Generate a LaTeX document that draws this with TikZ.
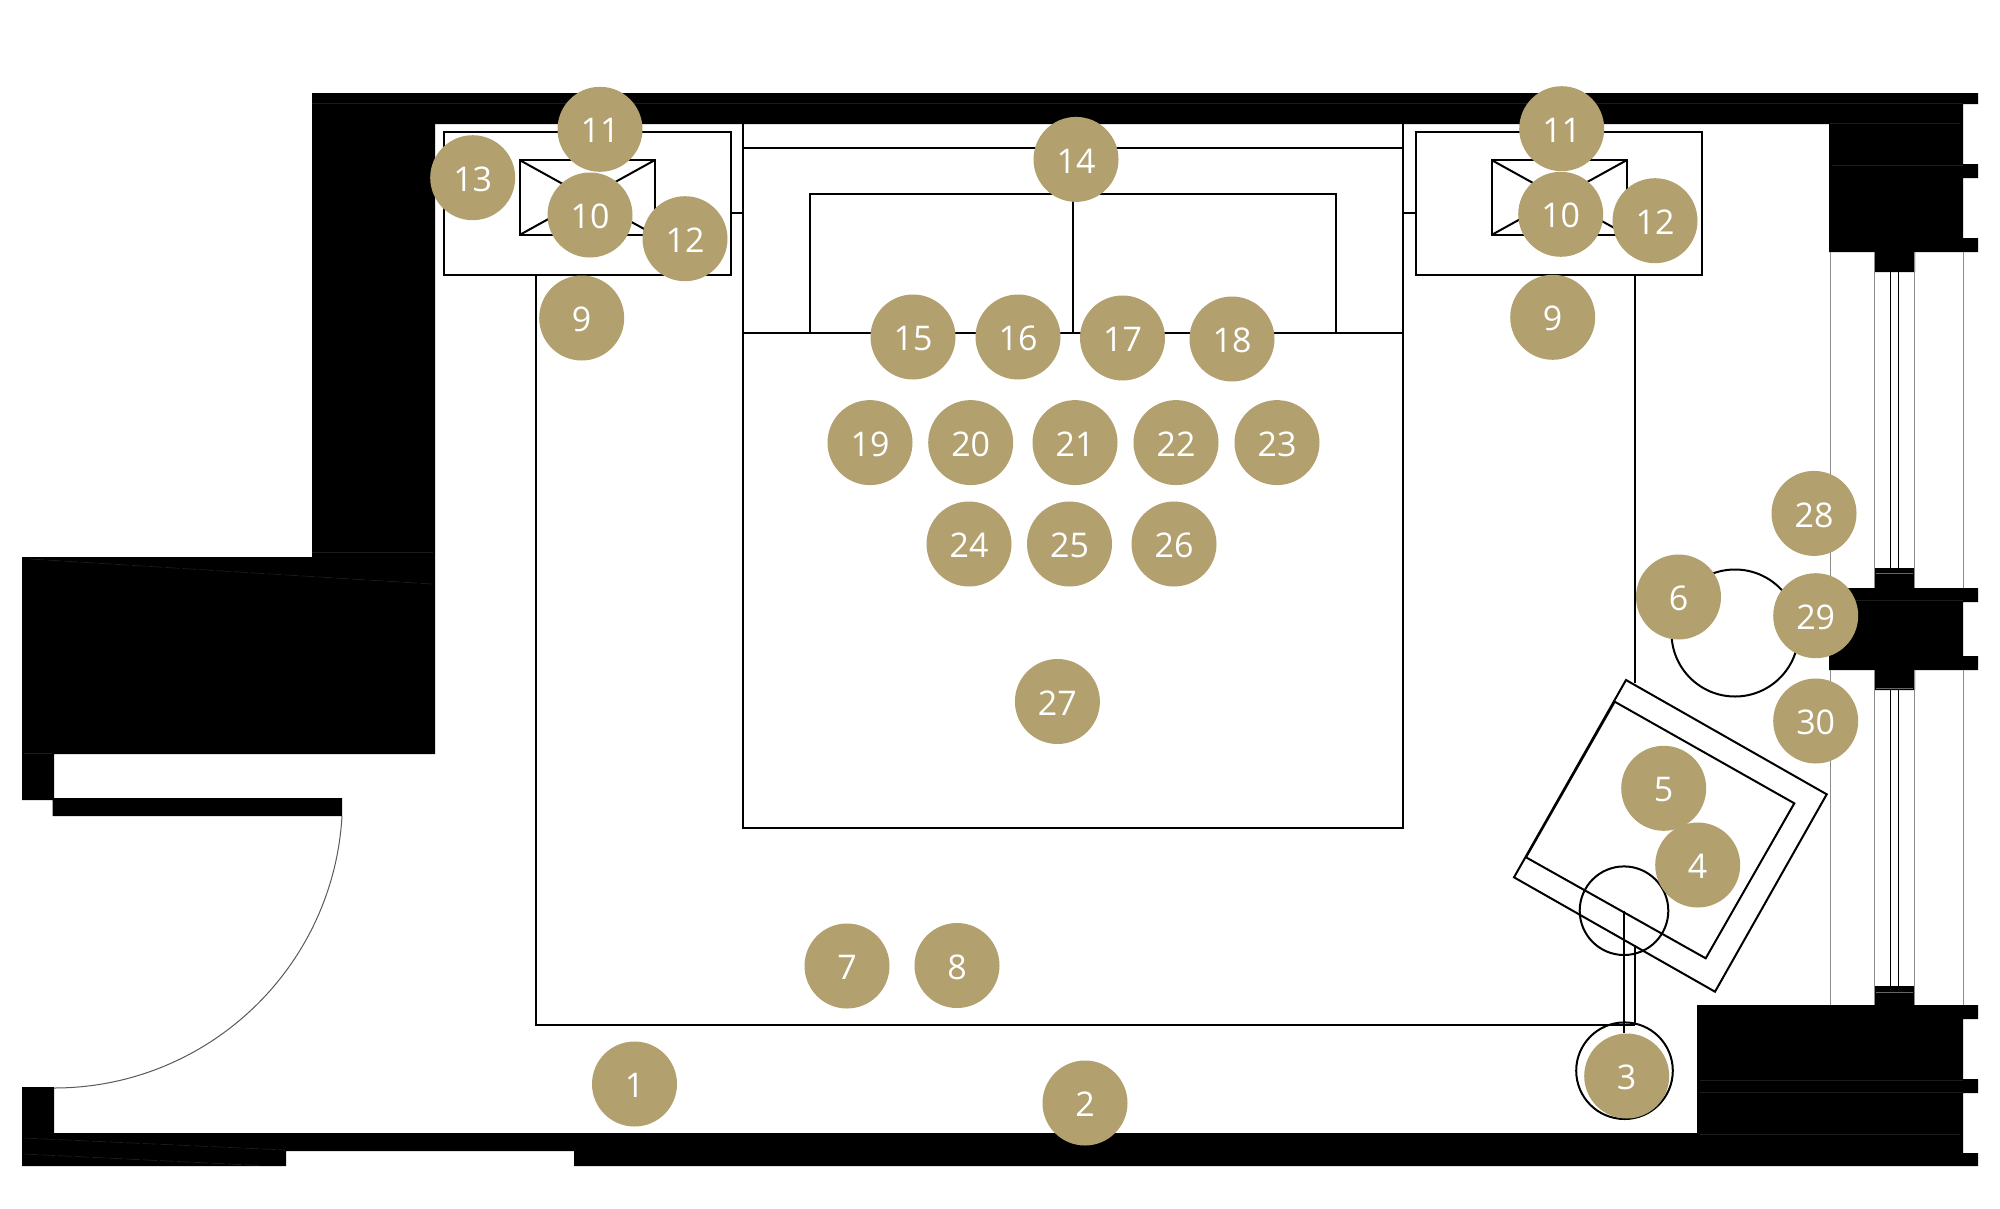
\documentclass[tikz,border=0pt]{standalone}
\usepackage{fontspec}
\setmainfont{Open Sans}
\definecolor{gold}{HTML}{B2A06F}
\definecolor{seam}{HTML}{1C1C1C}
\tikzset{
  wallfill/.style={fill=black,draw=none},
  seamline/.style={draw=seam,line width=0.7pt},
  seamdash/.style={draw=seam,line width=0.7pt,dash pattern=on 14pt off 3pt},
  stubseam/.style={draw=black!60,line width=1pt},
  furn/.style={draw=black,line width=2pt,line join=miter},
  thinfurn/.style={draw=black,line width=1.6pt},
  glass/.style={draw=black!45,line width=1pt},
  glassdark/.style={draw=black,line width=1.2pt},
  swing/.style={draw=black!65,line width=1pt},
  badgedisc/.style={circle,fill=gold,draw=none,inner sep=0pt,minimum size=85pt},
  badge/.style={badgedisc,text=white,text height=27.3pt,text depth=0pt,font=\fontsize{34}{34}\selectfont}
}
\begin{document}
\begin{tikzpicture}[x=1pt,y=-1pt]
\useasboundingbox (0,0) rectangle (2000,1208);
\fill[white] (0,0) rectangle (2000,1208);
% walls
\fill[wallfill] (312,93) -- (1978,93) -- (1978,104) -- (1963,104) -- (1963,164) -- (1978,164) -- (1978,178) -- (1963,178) -- (1963,238) -- (1978,238) -- (1978,252) -- (1915,252) -- (1915,272) -- (1874,272) -- (1874,252) -- (1829,252) -- (1829,124) -- (435,124) -- (435,754) -- (54,754) -- (54,798) -- (342,798) -- (342,816) -- (52.5,816) -- (52.5,800) -- (22,800) -- (22,557) -- (312,557) -- cycle;
\fill[wallfill] (1874,568) rectangle (1915,588);
\fill[wallfill] (1829,588) -- (1978,588) -- (1978,602) -- (1963,602) -- (1963,656) -- (1978,656) -- (1978,670) -- (1915,670) -- (1915,690) -- (1874,690) -- (1874,670) -- (1829,670) -- cycle;
\fill[wallfill] (1874,986) rectangle (1915,1005);
\fill[wallfill] (1697,1005) -- (1978,1005) -- (1978,1019) -- (1963,1019) -- (1963,1079) -- (1978,1079) -- (1978,1093) -- (1963,1093) -- (1963,1153) -- (1978,1153) -- (1978,1166) -- (574,1166) -- (574,1151) -- (286,1151) -- (286,1166) -- (22,1166) -- (22,1087) -- (54,1087) -- (54,1133) -- (1697,1133) -- cycle;
% seams inside the walls
\draw[seamline] (312,103) -- (1963,103);
\draw[seamline] (1830,123.5) -- (1960,123.5);
\draw[seamline] (1832,165.5) -- (1963,165.5);
\draw[seamline] (312,552.5) -- (433,552.5);
\draw[seamdash] (30,559) -- (432,584);
\draw[seamline] (24,753) -- (52,753);
\draw[seamline] (1830,600.5) -- (1963,600.5);
\draw[seamline] (1700,1080) -- (1963,1080);
\draw[seamline] (1700,1092.5) -- (1963,1092.5);
\draw[seamline] (1700,1134) -- (1960,1134);
\draw[seamdash] (24,1138) -- (285,1150);
\draw[seamdash] (24,1154) -- (260,1165.5);
\draw[stubseam] (1876,573.5) -- (1913,573.5);
\draw[stubseam] (1876,688) -- (1913,688);
\draw[stubseam] (1876,992) -- (1913,992);
% window glazing
\foreach \x in {1830,1874.5,1914.5,1963} {
  \draw[glass] (\x,252) -- (\x,588);
  \draw[glass] (\x,670) -- (\x,1005);
}
\foreach \x in {1890.5,1898.5} {
  \draw[glassdark] (\x,272) -- (\x,568);
  \draw[glassdark] (\x,690) -- (\x,986);
}
% door swing
\draw[swing] (342,816) arc[start angle=-3.28,end angle=-90,radius=288.5pt];
% rug
\draw[thinfurn] (1634.7,683) -- (1634.7,275);
\draw[thinfurn] (536,275) -- (536,1025) -- (1635,1025);
% bed
\draw[furn] (743,124) -- (743,828) -- (1403,828) -- (1403,124);
\draw[thinfurn] (743,148) -- (1403,148);
\draw[thinfurn] (743,333) -- (1403,333);
\draw[thinfurn] (810,333) -- (810,194) -- (1336,194) -- (1336,333);
\draw[thinfurn] (1073,194) -- (1073,333);
\draw[furn] (731,213) -- (743,213);
\draw[furn] (1403,213) -- (1415,213);
% night tables
\draw[furn] (444,132) rectangle (731,275);
\draw[furn] (519.5,160) rectangle (655,235);
\draw[furn] (519.5,160) -- (655,235);
\draw[furn] (519.5,235) -- (655,160);
\draw[furn] (1415.5,132) rectangle (1702,275);
\draw[furn] (1491.5,160) rectangle (1627,235);
\draw[furn] (1491.5,160) -- (1627,235);
\draw[furn] (1491.5,235) -- (1627,160);
% round table
\draw[furn] (1735,633) circle[radius=63.5pt];
% armchair
\draw[furn] (1626,680) -- (1826.7,794.3) -- (1715,991.7) -- (1514,877.3) -- cycle;
\draw[furn] (1614.7,701.7) -- (1794.3,803.3) -- (1705.7,958.3) -- (1526,857.3) -- cycle;
% floor lamp
\draw[furn] (1624,910.7) circle[radius=44.3pt];
\draw[furn] (1624.3,910.7) -- (1624.3,1033);
\draw[furn] (1634.7,945) -- (1634.7,1025);
\draw[furn] (1624.5,1070.7) circle[radius=48.3pt];
% badges
\node[badge] (n1) at (634.5,1084) {1};
\node[badge] (n2) at (1085,1103) {2};
\node[badge] (n3) at (1626.7,1076) {3};
\node[badge] (n4) at (1697.7,865) {4};
\node[badge] (n5) at (1663.7,788.3) {5};
\node[badge] (n6) at (1678.5,597) {6};
\node[badge] (n7) at (847,966) {7};
\node[badge] (n8) at (957,965.5) {8};
\node[badge] (n9a) at (581.7,318) {9};
\node[badge] (n9b) at (1552.7,317.3) {9};
\node[badge] (n11a) at (600,129.3) {11};
\node[badge] (n11b) at (1561.7,128.7) {11};
\node[badge] (n10a) at (590,215) {10};
\node[badge] (n10b) at (1560.7,214.3) {10};
\node[badge] (n12a) at (685,238.7) {12};
\node[badge] (n12b) at (1655,220.7) {12};
\node[badge] (n13) at (472.7,177.7) {13};
\node[badge] (n14) at (1076,159.4) {14};
\node[badge] (n15) at (913,337) {15};
\node[badge] (n16) at (1018,337) {16};
\node[badge] (n17) at (1122.5,338) {17};
\node[badge] (n18) at (1232,339) {18};
\node[badge] (n19) at (870,442.6) {19};
\node[badge] (n20) at (970.7,442.6) {20};
\node[badge] (n21) at (1075,442.6) {21};
\node[badge] (n22) at (1176,442.6) {22};
\node[badge] (n23) at (1277,442.6) {23};
\node[badge] (n24) at (969,544) {24};
\node[badge] (n25) at (1069.5,544) {25};
\node[badge] (n26) at (1174,544) {26};
\node[badge] (n27) at (1057.4,701.5) {27};
\node[badge] (n28) at (1814,513.4) {28};
\node[badge] (n29) at (1815.7,615.7) {29};
\node[badge] (n30) at (1815.7,721) {30};
\end{tikzpicture}
\end{document}
